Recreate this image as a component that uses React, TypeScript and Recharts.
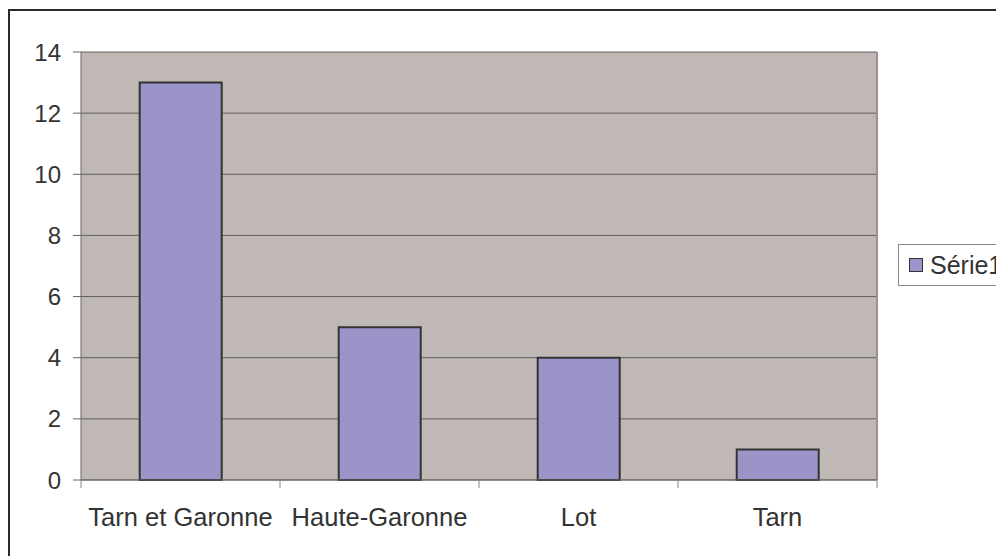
import React from 'react';
import { BarChart, Bar, XAxis, YAxis, CartesianGrid, Legend } from 'recharts';

const categories = ['Tarn et Garonne', 'Haute-Garonne', 'Lot', 'Tarn'];
const serie1 = [13, 5, 4, 1];
const yTicks = [0, 2, 4, 6, 8, 10, 12, 14];
const seriesName = 'Série1';

const data = categories.map((c, i) => ({ name: c, v: serie1[i] }));

const FONT = '"Liberation Sans", Arial, sans-serif';
const BAR_FILL = '#9A94C8';

const XTick = (props: any) => {
  const { x, y, payload, index, width, visibleTicksCount } = props;
  const n = visibleTicksCount || categories.length;
  const band = (width || 796) / n;
  const left = x - band / 2;
  const right = x + band / 2;
  return (
    <g>
      <line x1={left} y1={y} x2={left} y2={y + 8} stroke="#888" strokeWidth={1} />
      {index === n - 1 && (
        <line x1={right} y1={y} x2={right} y2={y + 8} stroke="#888" strokeWidth={1} />
      )}
      <text x={x} y={y + 46} textAnchor="middle" fill="#333" fontSize={25.5} fontFamily={FONT}>
        {payload.value}
      </text>
    </g>
  );
};

const LegendContent = (props: any) => {
  const items = props.payload || [];
  return (
    <div
      style={{
        border: '1px solid #888',
        background: '#fff',
        height: 42,
        width: 130,
        boxSizing: 'border-box',
        display: 'flex',
        alignItems: 'center',
        paddingLeft: 10,
        fontFamily: FONT,
      }}
    >
      {items.map((it: any, i: number) => (
        <div key={i} style={{ display: 'flex', alignItems: 'center' }}>
          <span
            style={{
              display: 'inline-block',
              width: 12,
              height: 12,
              background: BAR_FILL,
              border: '1px solid #333',
              marginRight: 7,
            }}
          />
          <span style={{ fontSize: 25, color: '#333' }}>{it.value}</span>
        </div>
      ))}
    </div>
  );
};

export default function App() {
  return (
    <div style={{ position: 'relative', width: 996, height: 548, overflow: 'hidden', background: '#fff' }}>
      <div
        style={{
          position: 'absolute',
          left: 0,
          top: 1,
          width: 1100,
          height: 700,
          border: '2px solid #2a2a2a',
          boxSizing: 'border-box',
        }}
      />
      <div style={{ position: 'absolute', left: 0, top: 0 }}>
        <BarChart
          width={996}
          height={548}
          data={data}
          margin={{ top: 44, right: 127, bottom: 36, left: 13 }}
          barCategoryGap="29.5%"
        >
          <CartesianGrid vertical={false} stroke="#555" strokeOpacity={0.9} fill="#C0B8B5" fillOpacity={1} />
          <CartesianGrid
            horizontal={false}
            stroke="#9C8E8E"
            strokeWidth={2}
            verticalCoordinatesGenerator={({ offset }: any) => [offset.left + offset.width]}
          />
          <XAxis
            dataKey="name"
            height={40}
            axisLine={{ stroke: '#666', strokeWidth: 1 }}
            tickLine={false}
            tickSize={0}
            tickMargin={0}
            interval={0}
            tick={<XTick />}
          />
          <YAxis
            width={60}
            domain={[0, 14]}
            ticks={yTicks}
            interval={0}
            axisLine={{ stroke: '#666', strokeWidth: 1 }}
            tickLine={{ stroke: '#666' }}
            tickSize={8}
            tickMargin={12}
            tick={{ fill: '#333', fontSize: 24, fontFamily: FONT }}
          />
          <Legend
            layout="horizontal"
            verticalAlign="middle"
            align="center"
            content={<LegendContent />}
            wrapperStyle={{ left: 890, top: 236, width: 130, height: 42 }}
          />
          <Bar
            dataKey="v"
            name={seriesName}
            fill={BAR_FILL}
            stroke="#333"
            strokeWidth={2}
            isAnimationActive={false}
          />
        </BarChart>
      </div>
    </div>
  );
}
